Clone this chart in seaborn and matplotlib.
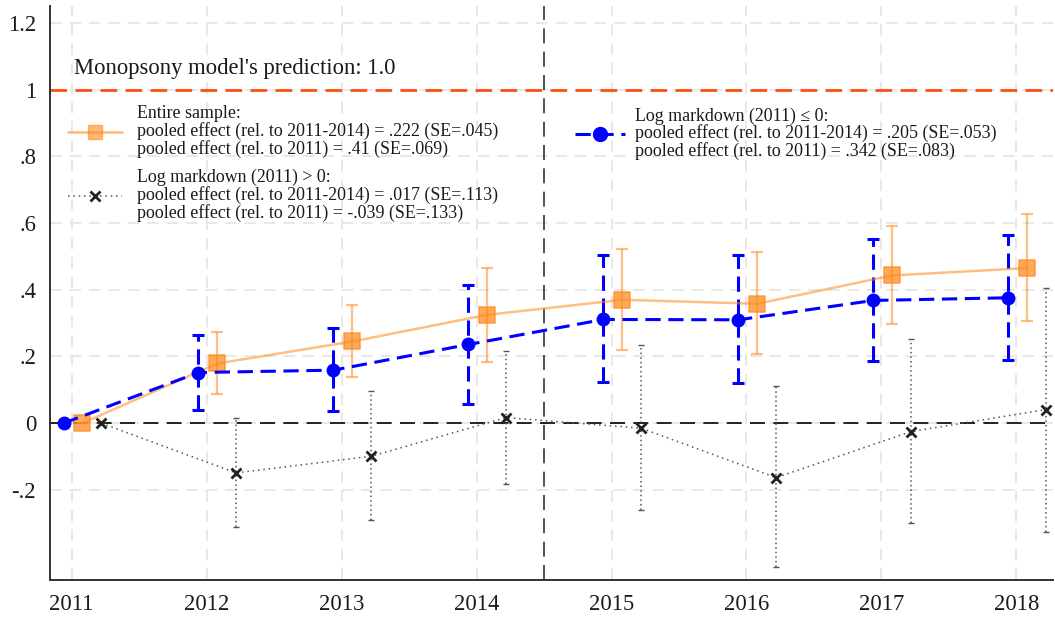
import numpy as np
import matplotlib
matplotlib.use("Agg")
import matplotlib.pyplot as plt
from matplotlib.lines import Line2D
import seaborn as sns

# ---- data ----
years = [2011, 2012, 2013, 2014, 2015, 2016, 2017, 2018]
year_labels = ["2011", "2012", "2013", "2014", "2015", "2016", "2017", "2018"]

entire = [0.0, 0.179, 0.245, 0.325, 0.370, 0.358, 0.443, 0.465]
entire_lo = [0.0, 0.087, 0.138, 0.184, 0.219, 0.207, 0.296, 0.307]
entire_hi = [0.0, 0.272, 0.353, 0.465, 0.523, 0.512, 0.590, 0.626]

neg = [0.0, 0.152, 0.159, 0.236, 0.311, 0.310, 0.368, 0.376]
neg_lo = [0.0, 0.041, 0.037, 0.058, 0.123, 0.120, 0.186, 0.189]
neg_hi = [0.0, 0.263, 0.286, 0.415, 0.503, 0.505, 0.551, 0.564]

pos = [0.0, -0.149, -0.099, 0.017, -0.015, -0.163, -0.025, 0.041]
pos_lo = [0.0, -0.312, -0.290, -0.183, -0.260, -0.432, -0.300, -0.325]
pos_hi = [0.0, 0.017, 0.096, 0.217, 0.234, 0.111, 0.251, 0.406]

ytick_vals = [-0.2, 0, 0.2, 0.4, 0.6, 0.8, 1.0, 1.2]
ytick_labels = ["-.2", "0", ".2", ".4", ".6", ".8", "1", "1.2"]

label_entire = ("Entire sample:\npooled effect (rel. to 2011-2014) = .222 (SE=.045)\n"
                "pooled effect (rel. to 2011) = .41 (SE=.069)")
label_pos = ("Log markdown (2011) > 0:\npooled effect (rel. to 2011-2014) = .017 (SE=.113)\n"
             "pooled effect (rel. to 2011) = -.039 (SE=.133)")
label_neg = ("Log markdown (2011) \u2264 0:\npooled effect (rel. to 2011-2014) = .205 (SE=.053)\n"
             "pooled effect (rel. to 2011) = .342 (SE=.083)")
prediction_text = "Monopsony model's prediction: 1.0"
prediction_value = 1.0
treatment_break = 2014.5

# ---- style ----
sns.set_style("white")
plt.rcParams["font.family"] = ["Liberation Serif", "DejaVu Serif"]

ORANGE = "#FF8A1C"
BLUE = "#0000FF"
DARK = "#333333"
TXT = "#1a1a1a"

off_neg, off_ent, off_pos = -0.06, 0.08, 0.22
yrs = np.array(years, dtype=float)

fig = plt.figure(figsize=(10.55, 6.2), dpi=100)
ax = fig.add_axes([0.0474, 0.0645, 0.9506, 0.9255])

# grid
for yv in ytick_vals:
    ax.axhline(yv, color="#E8E8E8", lw=1.4, ls=(0, (6, 4)), zorder=0)
for xv in years:
    ax.axvline(xv, color="#E8E8E8", lw=1.4, ls=(0, (6, 4)), zorder=0)

# reference lines
ax.axhline(prediction_value, color="#FF4F0F", lw=2.0, ls=(0, (6, 3)), zorder=2)
ax.axhline(0, color="black", lw=1.2, ls=(0, (9, 5)), zorder=2)
ax.axvline(treatment_break, color=DARK, lw=1.2, ls=(0, (9, 5)), zorder=2)

# Log markdown > 0 (black dotted)
x_pos = yrs + off_pos
eb = ax.errorbar(x_pos, pos, yerr=[np.array(pos) - np.array(pos_lo), np.array(pos_hi) - np.array(pos)],
                 fmt="none", ecolor="#555555", elinewidth=1.1, capsize=2, capthick=1.0, zorder=3)
eb[2][0].set_linestyle((0, (1, 2)))
sns.lineplot(x=x_pos, y=pos, ax=ax, color="#555555", lw=1.1, linestyle=(0, (1, 2.5)),
             marker="x", markersize=7, markeredgewidth=2, markeredgecolor="#222222", zorder=4)

# Entire sample (orange)
x_ent = yrs + off_ent
eb = ax.errorbar(x_ent, entire, yerr=[np.array(entire) - np.array(entire_lo), np.array(entire_hi) - np.array(entire)],
                 fmt="none", ecolor=ORANGE, alpha=0.55, elinewidth=1.6, capsize=4.5, capthick=1.6, zorder=3)
sns.lineplot(x=x_ent, y=entire, ax=ax, color=ORANGE, alpha=0.55, lw=1.8, zorder=5)
sns.scatterplot(x=x_ent, y=entire, ax=ax, color=ORANGE, alpha=0.72, marker="s", s=120,
                edgecolor=ORANGE, linewidth=1.2, zorder=5)

# Log markdown <= 0 (blue dashed)
x_neg = yrs + off_neg
eb = ax.errorbar(x_neg, neg, yerr=[np.array(neg) - np.array(neg_lo), np.array(neg_hi) - np.array(neg)],
                 fmt="none", ecolor=BLUE, elinewidth=2.2, capsize=4, capthick=2.2, zorder=4)
eb[2][0].set_linestyle((0, (5, 2.5)))
sns.lineplot(x=x_neg, y=neg, ax=ax, color=BLUE, lw=2.2, linestyle=(0, (5, 2.5)),
             marker="o", markersize=10, markeredgewidth=0, zorder=6)

# axes
ax.set_xlim(2010.84, 2018.27)
ax.set_ylim(-0.47, 1.25)
ax.set_xticks(years)
ax.set_xticklabels(year_labels)
ax.set_yticks(ytick_vals)
ax.set_yticklabels(ytick_labels)
ax.tick_params(axis="both", direction="out", length=7, width=1.2, color=DARK,
               labelsize=16.3, labelcolor=TXT, pad=3)
for s in ["top", "right"]:
    ax.spines[s].set_visible(False)
for s in ["left", "bottom"]:
    ax.spines[s].set_color(DARK)
    ax.spines[s].set_linewidth(1.4)
ax.set_xlabel("")
ax.set_ylabel("")

ax.text(2011.02, 1.063, prediction_text, fontsize=16.3, va="center", ha="left", color=TXT)

# legends
h_ent = Line2D([], [], color=ORANGE, alpha=0.6, lw=1.8, marker="s", markersize=10.5)
h_pos = Line2D([], [], color="#555555", lw=1.1, linestyle=(0, (1, 2.5)), marker="x",
               markersize=7, markeredgewidth=2, markeredgecolor="#222222")
h_neg = Line2D([], [], color=BLUE, lw=2.2, linestyle=(0, (5, 2.5)), marker="o", markersize=10)

leg1 = ax.legend([h_ent, h_pos], [label_entire, label_pos], loc="upper left",
                 bbox_to_anchor=(0.018, 0.828), frameon=False, fontsize=12.9,
                 handlelength=3.0, handletextpad=0.84, labelspacing=0.62,
                 borderpad=0, borderaxespad=0)
for t in leg1.get_texts():
    t.set_color(TXT)
    t.set_linespacing(1.0)
ax.add_artist(leg1)
leg2 = ax.legend([h_neg], [label_neg], loc="upper left",
                 bbox_to_anchor=(0.523, 0.824), frameon=False, fontsize=12.9,
                 handlelength=2.8, handletextpad=0.6, borderpad=0, borderaxespad=0)
for t in leg2.get_texts():
    t.set_color(TXT)
    t.set_linespacing(1.0)

fig.savefig("out.png", dpi=100)
